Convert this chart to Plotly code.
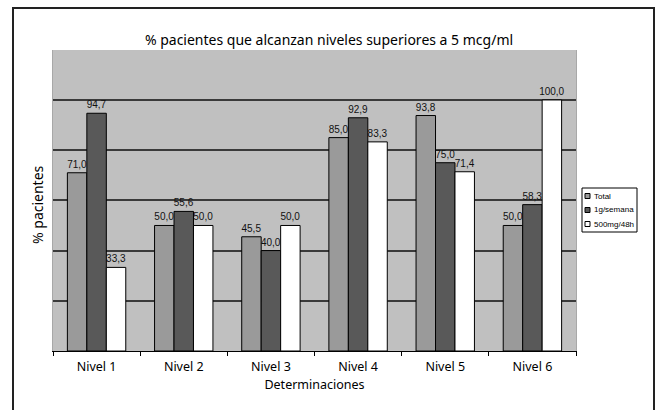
import plotly.graph_objects as go

categories = ["Nivel 1", "Nivel 2", "Nivel 3", "Nivel 4", "Nivel 5", "Nivel 6"]
total = [71.0, 50.0, 45.5, 85.0, 93.8, 50.0]
semanal = [94.7, 55.6, 40.0, 92.9, 75.0, 58.3]
cada48h = [33.3, 50.0, 50.0, 83.3, 71.4, 100.0]
series_names = ["Total", "1g/semana", "500mg/48h"]
series_colors = ["#9a9a9a", "#595959", "#ffffff"]

W, H = 658, 410
L, R, T, B = 53, 82, 50, 59
PW, PH = W - L - R, H - T - B


def px(x):
    return (x - L) / PW


def py(y):
    return (H - B - y) / PH


def fmt(v):
    return f"{v:.1f}".replace(".", ",")


fig = go.Figure()
for name, vals, col in zip(series_names, [total, semanal, cada48h], series_colors):
    fig.add_trace(go.Bar(
        x=categories, y=vals, name=name,
        marker=dict(color=col, line=dict(color="#000000", width=1)),
        text=[fmt(v) for v in vals], textposition="outside",
        textfont=dict(family="Arial, Liberation Sans", size=10, color="#111111"),
        constraintext="none", cliponaxis=False, showlegend=False,
    ))

# outer border
fig.add_shape(type="rect", xref="paper", yref="paper",
              x0=px(13), x1=px(654), y0=py(430), y1=py(8),
              line=dict(color="#222222", width=2), fillcolor="rgba(0,0,0,0)", layer="below")

# manual legend box
fig.add_shape(type="rect", xref="paper", yref="paper",
              x0=px(582), x1=px(637), y0=py(232), y1=py(188),
              line=dict(color="#000000", width=1), fillcolor="#ffffff")
for i, (name, col) in enumerate(zip(series_names, series_colors)):
    yc = 196 + 14 * i
    fig.add_shape(type="rect", xref="paper", yref="paper",
                  x0=px(585), x1=px(590), y0=py(yc + 2.5), y1=py(yc - 2.5),
                  line=dict(color="#000000", width=1), fillcolor=col)
    fig.add_annotation(xref="paper", yref="paper", x=px(592), y=py(yc),
                       text=name, showarrow=False, xanchor="left", yanchor="middle",
                       font=dict(family="Arial, Liberation Sans", size=8, color="#000000"))

fig.add_annotation(xref="paper", yref="paper", x=px(38), y=py(205),
                   text="% pacientes", textangle=-90, showarrow=False,
                   xanchor="center", yanchor="middle",
                   font=dict(family="Noto Sans", size=14, color="#000000"))

fig.update_layout(
    width=W, height=H,
    margin=dict(l=L, r=R, t=T, b=B),
    paper_bgcolor="#ffffff", plot_bgcolor="#c0c0c0",
    barmode="group", bargap=0.33, bargroupgap=0,
    title=dict(text="% pacientes que alcanzan niveles superiores a 5 mcg/ml",
               x=0.5, xref="container", y=1 - 40 / H, yref="container",
               xanchor="center", yanchor="middle",
               font=dict(family="Noto Sans", size=14, color="#000000")),
    xaxis=dict(showline=True, linecolor="#000000", linewidth=1,
               ticks="outside", tickson="boundaries", ticklen=4, tickcolor="#000000",
               ticklabelstandoff=4,
               tickfont=dict(family="Noto Sans", size=12.5, color="#000000"),
               title=dict(text="Determinaciones", standoff=6,
                          font=dict(family="Noto Sans", size=12.5, color="#000000"))),
    yaxis=dict(range=[0, 119.9], dtick=20, showticklabels=False,
               showgrid=True, gridcolor="#3a3a3a", gridwidth=1.7,
               zeroline=False, showline=True, linecolor="#a8a8a8", mirror=True),
)

fig.write_html("out.html", config={"displayModeBar": False},
               post_script="document.body.style.margin='0';document.body.style.overflow='hidden';")
